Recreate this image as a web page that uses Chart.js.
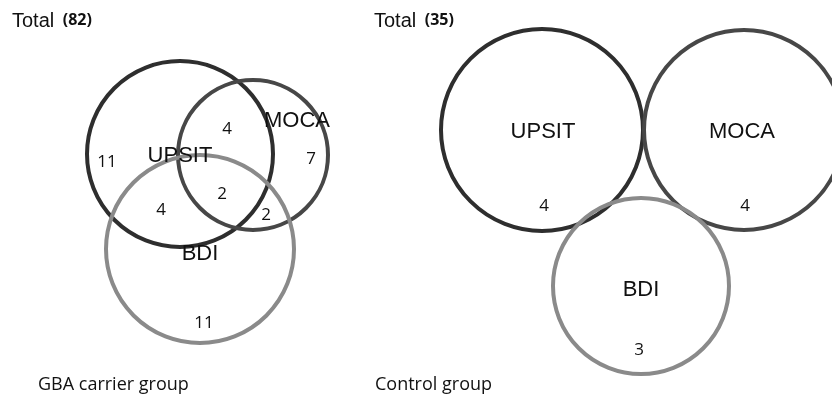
<!DOCTYPE html>
<html>
<head>
<meta charset="utf-8">
<script src="https://cdn.jsdelivr.net/npm/chart.js@4/dist/chart.umd.min.js"></script>
<style>
  body { margin: 0; background: #fff; }
  #venn { display: block; }
</style>
</head>
<body>
<canvas id="venn" width="832" height="400"></canvas>
<script>
// --- Dados ---
const groupNames = ['GBA carrier group', 'Control group'];
const groupTotals = [82, 35];
const setNames = ['UPSIT', 'MOCA', 'BDI'];

// Contagens por região (grupo GBA)
const gbaRegions = ['UPSIT', 'UPSIT+MOCA', 'MOCA', 'UPSIT+MOCA+BDI', 'UPSIT+BDI', 'MOCA+BDI', 'BDI'];
const gbaCounts = [11, 4, 7, 2, 4, 2, 11];

// Contagens por região (grupo controle) - sem interseções
const controlRegions = ['UPSIT', 'MOCA', 'BDI'];
const controlCounts = [4, 4, 3];

// --- Layout (posições no plano 832x400) ---
const circlesGba = { UPSIT: [180, 154, 93], MOCA: [253, 155, 75], BDI: [200, 249, 94] };
const circlesCtl = { UPSIT: [542, 130, 101], MOCA: [744, 130, 100], BDI: [641, 286, 88] };
const setColors = { UPSIT: '#2e2e2e', MOCA: '#474747', BDI: '#8a8a8a' };

const gbaSetLabelPos = { UPSIT: [180, 156], MOCA: [297, 121], BDI: [200, 254] };
const ctlSetLabelPos = { UPSIT: [543, 132], MOCA: [742, 132], BDI: [641, 290] };
const gbaCountPos = {
    'UPSIT': [107, 162], 'UPSIT+MOCA': [227, 129], 'MOCA': [311, 159],
    'UPSIT+MOCA+BDI': [222, 194], 'UPSIT+BDI': [161, 210], 'MOCA+BDI': [266, 215], 'BDI': [204, 323]
};
const ctlCountPos = { 'UPSIT': [544, 206], 'MOCA': [745, 206], 'BDI': [639, 350] };

function bubbles(circles) {
    return setNames.map(name => ({ x: circles[name][0], y: circles[name][1], r: circles[name][2] }));
}

// Plugin que escreve os textos (nomes, contagens, totais, grupos)
const vennText = {
    id: 'vennText',
    afterDatasetsDraw(chart) {
        const ctx = chart.ctx;
        const sx = chart.scales.x, sy = chart.scales.y;
        const px = v => sx.getPixelForValue(v);
        const py = v => sy.getPixelForValue(v);
        ctx.save();
        ctx.fillStyle = '#111';
        ctx.textBaseline = 'middle';
        ctx.textAlign = 'center';

        // nomes dos conjuntos
        ctx.font = '22px "Liberation Sans", Arial, sans-serif';
        setNames.forEach(n => {
            ctx.fillText(n, px(gbaSetLabelPos[n][0]), py(gbaSetLabelPos[n][1]));
            ctx.fillText(n, px(ctlSetLabelPos[n][0]), py(ctlSetLabelPos[n][1]));
        });

        // contagens
        ctx.font = '17px "Open Sans", sans-serif';
        gbaRegions.forEach((r, i) => ctx.fillText(String(gbaCounts[i]), px(gbaCountPos[r][0]), py(gbaCountPos[r][1])));
        controlRegions.forEach((r, i) => ctx.fillText(String(controlCounts[i]), px(ctlCountPos[r][0]), py(ctlCountPos[r][1])));

        // totais
        ctx.textAlign = 'left';
        const totalX = [12, 374];
        groupTotals.forEach((t, i) => {
            ctx.font = '20px "Liberation Sans", Arial, sans-serif';
            ctx.fillText('Total', px(totalX[i]), py(21));
            const w = ctx.measureText('Total ').width;
            ctx.font = 'bold 16px "Open Sans", sans-serif';
            ctx.fillText('(' + t + ')', px(totalX[i]) + w + 3, py(20));
        });

        // nome dos grupos
        ctx.font = '18px "Open Sans", sans-serif';
        const groupX = [38, 375];
        groupNames.forEach((g, i) => ctx.fillText(g, px(groupX[i]), py(385)));
        ctx.restore();
    }
};

new Chart(document.getElementById('venn'), {
    type: 'bubble',
    data: {
        datasets: [
            {
                label: groupNames[0],
                data: bubbles(circlesGba),
                backgroundColor: 'rgba(0,0,0,0)',
                borderColor: setNames.map(n => setColors[n]),
                borderWidth: 4,
                clip: false
            },
            {
                label: groupNames[1],
                data: bubbles(circlesCtl),
                backgroundColor: 'rgba(0,0,0,0)',
                borderColor: setNames.map(n => setColors[n]),
                borderWidth: 4,
                clip: false
            }
        ]
    },
    options: {
        responsive: false,
        animation: false,
        layout: { padding: 0, autoPadding: false },
        plugins: { legend: { display: false }, tooltip: { enabled: false } },
        scales: {
            x: { type: 'linear', min: 0, max: 832, display: false },
            y: { type: 'linear', min: 0, max: 400, reverse: true, display: false }
        }
    },
    plugins: [vennText]
});
</script>
</body>
</html>
